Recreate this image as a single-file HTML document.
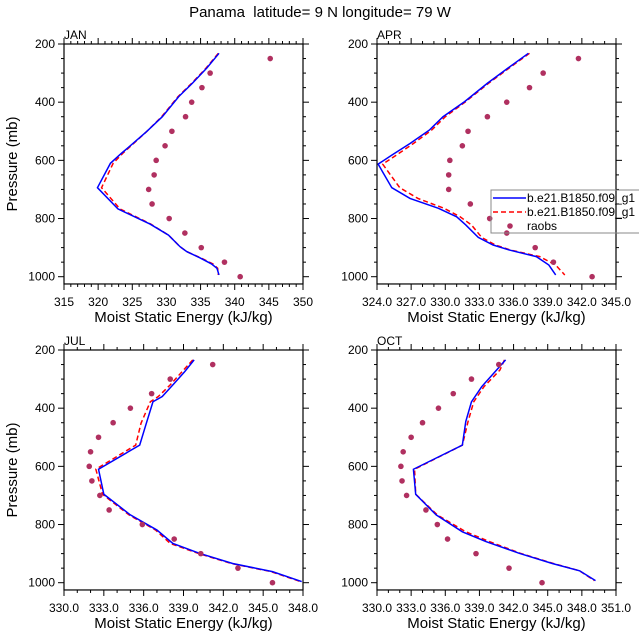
<!DOCTYPE html>
<html><head><meta charset="utf-8">
<style>
html,body{margin:0;padding:0;background:#fff;}
svg{display:block;font-family:"Liberation Sans",sans-serif;}
</style></head>
<body>
<svg id="chart" width="639" height="639" viewBox="0 0 639 639" xmlns="http://www.w3.org/2000/svg">
<text x="320" y="17" text-anchor="middle" font-size="15" style="white-space:pre">Panama  latitude= 9 N longitude= 79 W</text>
</svg>
<script>
const months = ["JAN","APR","JUL","OCT"];
const levelsJAN = [232,283,335,381,450,501,542,576,610,694,767,819,857,897,914,935,956,971,994];
const blueJAN = [337.7,335.9,333.8,331.8,329.4,327.1,325.1,323.4,321.8,319.9,322.9,327.6,330.3,332.0,333.0,334.9,336.6,337.4,337.7];
const redJAN  = [337.6,335.8,333.7,331.7,329.3,327.1,325.2,323.6,322.2,320.5,323.2,327.7,330.3,332.0,333.0,335.0,336.8,337.5,337.6];
const levelsAPR = [232,283,335,398,450,496,542,582,613,694,731,765,794,822,865,891,908,931,960,994];
const blueAPR = [337.3,335.5,333.7,331.7,329.8,328.6,326.9,325.3,324.1,325.3,326.9,329.4,331.0,331.8,332.9,334.2,335.6,338.0,339.1,339.7];
const redAPR  = [337.4,335.6,333.8,331.8,330.0,328.8,327.2,325.7,324.5,326.0,327.6,329.9,331.3,332.3,333.2,334.4,335.7,338.3,339.7,340.5];
const levelsJUL = [234,274,320,360,378,452,527,610,696,767,819,865,899,934,962,996];
const blueJUL = [339.8,339.1,338.2,337.4,336.7,336.2,335.7,332.6,333.0,335.0,337.0,338.2,340.2,342.7,345.7,347.9];
const redJUL  = [339.7,338.9,338.0,337.1,336.5,335.8,335.4,332.4,332.9,334.9,336.9,338.0,340.1,342.6,345.6,347.8];
const levelsOCT = [234,269,326,378,446,527,610,696,767,825,859,899,934,959,993];
const blueOCT = [341.3,340.5,339.2,338.3,337.8,337.5,333.2,333.4,335.2,337.5,339.6,342.5,345.4,347.8,349.2];
const redOCT  = [341.2,340.8,339.4,338.5,338.0,337.5,333.3,333.4,335.3,337.8,339.9,342.6,345.5,347.8,349.1];
const obsLevels = [250,300,350,400,450,500,550,600,650,700,750,800,850,900,950,1000];
const obsJAN = [345.2,336.4,335.2,333.7,332.8,330.8,329.8,328.5,328.2,327.4,327.9,330.4,332.7,335.1,338.5,340.8];
const obsAPR = [341.7,338.6,337.4,335.4,333.7,332.0,331.5,330.4,330.3,330.3,332.2,333.9,335.4,337.9,339.5,342.9];
const obsJUL = [341.2,338.0,336.6,335.0,333.7,332.6,332.0,331.9,332.1,332.7,333.4,335.9,338.3,340.3,343.1,345.7];
const obsOCT = [340.7,338.3,336.7,335.4,334.0,333.0,332.3,332.1,332.2,332.6,334.3,335.3,336.2,338.7,341.6,344.5];
const xTicksJAN = [315,320,325,330,335,340,345,350];
const xTicksAPR = [324,327,330,333,336,339,342,345];
const xTicksJUL = [330,333,336,339,342,345,348];
const xTicksOCT = [330,333,336,339,342,345,348,351];
const yTicks = [200,400,600,800,1000];

const NS="http://www.w3.org/2000/svg";
const svg=document.getElementById('chart');
function mk(tag,attrs,parent){const e=document.createElementNS(NS,tag);for(const k in attrs)e.setAttribute(k,attrs[k]);(parent||svg).appendChild(e);return e;}

const panels=[
 {name:"JAN",x0:64,x1:303,y0:44,lv:levelsJAN,b:blueJAN,r:redJAN,ob:obsJAN,xt:xTicksJAN,minor:1,dec:0,ylab:true},
 {name:"APR",x0:377,x1:616,y0:44,lv:levelsAPR,b:blueAPR,r:redAPR,ob:obsAPR,xt:xTicksAPR,minor:1,dec:1,ylab:false},
 {name:"JUL",x0:64,x1:303,y0:350,lv:levelsJUL,b:blueJUL,r:redJUL,ob:obsJUL,xt:xTicksJUL,minor:1,dec:1,ylab:true},
 {name:"OCT",x0:377,x1:616,y0:350,lv:levelsOCT,b:blueOCT,r:redOCT,ob:obsOCT,xt:xTicksOCT,minor:1,dec:1,ylab:false}
];
const pScale=232.7/800;
panels.forEach(P=>{
  const g=mk('g',{});
  
  
  const xmin=P.xt[0], xmax=P.xt[P.xt.length-1];
  const sx=v=>P.x0+(v-xmin)/(xmax-xmin)*(P.x1-P.x0);
  const sy=p=>P.y0+(p-200)*pScale;
  const yb=sy(1025);
  const cid='clip'+P.name;
  const cp=mk('clipPath',{id:cid},g);mk('rect',{x:P.x0,y:P.y0,width:P.x1-P.x0,height:yb-P.y0},cp);
  for(let v=xmin; v<=xmax+1e-6; v+=P.minor){
    const major=P.xt.some(t=>Math.abs(t-v)<1e-6); const L=major?6:3;
    mk('line',{x1:sx(v),x2:sx(v),y1:yb,y2:yb+L,stroke:'#000','stroke-width':1},g);
    mk('line',{x1:sx(v),x2:sx(v),y1:P.y0,y2:P.y0-L,stroke:'#000','stroke-width':1},g);
  }
  for(let p=200;p<=1000;p+=50){
    const major=p%200===0; const L=major?6:3;
    mk('line',{x1:P.x0,x2:P.x0-L,y1:sy(p),y2:sy(p),stroke:'#000','stroke-width':1},g);
    mk('line',{x1:P.x1,x2:P.x1+L,y1:sy(p),y2:sy(p),stroke:'#000','stroke-width':1},g);
  }
  P.xt.forEach(t=>{const e=mk('text',{x:sx(t),y:yb+22,'text-anchor':'middle','font-size':12},g);e.textContent=P.dec?t.toFixed(1):t;
    
    });
  yTicks.forEach(t=>{const e=mk('text',{x:P.x0-9,y:sy(t)+4,'text-anchor':'end','font-size':12},g);e.textContent=t;
    
    });
  const xl=mk('text',{x:(P.x0+P.x1)/2,y:yb+38,'text-anchor':'middle','font-size':15},g);xl.textContent="Moist Static Energy (kJ/kg)";
  
  
  if(P.ylab){const yl=mk('text',{x:0,y:0,'text-anchor':'middle','font-size':15,transform:`translate(17,${(P.y0+yb)/2}) rotate(-90)`},g);yl.textContent="Pressure (mb)";
    
    }
  const tl=mk('text',{x:P.x0,y:P.y0-5,'font-size':12},g);tl.textContent=P.name;
  
  
  const pg=mk('g',{'clip-path':`url(#${cid})`},g);
  const rp=mk('polyline',{points:P.lv.map((p,i)=>sx(P.r[i])+','+sy(p)).join(' '),fill:'none',stroke:'#ff0000','stroke-width':1.5,'stroke-dasharray':'5,3'},pg);
  
  
  const bp=mk('polyline',{points:P.lv.map((p,i)=>sx(P.b[i])+','+sy(p)).join(' '),fill:'none',stroke:'#0000ff','stroke-width':1.5},pg);
  
  
  obsLevels.forEach((p,i)=>{const c=mk('circle',{cx:sx(P.ob[i]),cy:sy(p),r:2.8,fill:'#b03060'},pg);
    
    });
  mk('rect',{x:P.x0,y:P.y0,width:P.x1-P.x0,height:yb-P.y0,fill:'none',stroke:'#000','stroke-width':1.2},g);
});
const lg=mk('g',{});


mk('rect',{x:491,y:190,width:160,height:43,fill:'none',stroke:'#888','stroke-width':1},lg);
mk('line',{x1:493,x2:526,y1:198,y2:198,stroke:'#0000ff','stroke-width':1.5},lg);
mk('line',{x1:493,x2:526,y1:212,y2:212,stroke:'#ff0000','stroke-width':1.5,'stroke-dasharray':'5,3'},lg);
mk('circle',{cx:510,cy:226,r:2.8,fill:'#b03060'},lg);
[["b.e21.B1850.f09_g1",202],["b.e21.B1850.f09_g1",216],["raobs",230]].forEach(([t,y])=>{const e=mk('text',{x:527,y:y,'font-size':12},lg);e.textContent=t;
  
  });
</script>
</body></html>
